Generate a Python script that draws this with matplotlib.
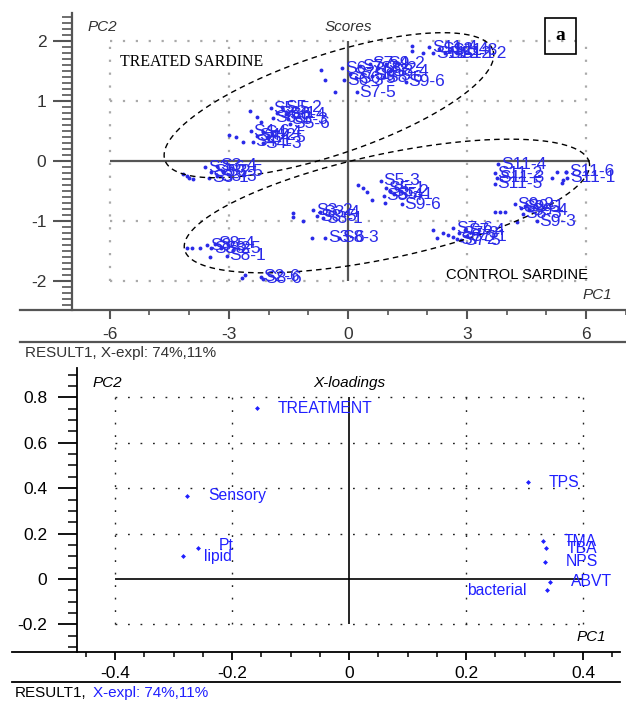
import numpy as np
import matplotlib
matplotlib.use("Agg")
import matplotlib.pyplot as plt
from matplotlib.patches import Rectangle
from matplotlib.lines import Line2D
from matplotlib.ticker import MultipleLocator

plt.rcParams['font.family'] = ['Liberation Sans', 'DejaVu Sans']

# ---- scores (PC1, PC2) with sample labels ----
score_labels = [
    # treated
    "S11-4", "S11-1", "S12-4", "S12-1", "S11-3", "S12-2",
    "S6-7", "S6-3", "S7-2", "S7-4", "S8-2", "S9-2", "S8-4", "S9-5", "S9-6", "S6-5", "S7-5", "S8-6", "S7-1",
    "S5-5", "S6-1", "S5-2", "S6-4", "S5-3", "S6-2", "S5-6",
    "S4-6", "S4-2", "S4-4", "S4-1", "S4-3", "S4-5",
    "S3-6", "S3-2", "S3-4", "S3-1", "S3-3", "S3-5",
    # control
    "S5-3", "S5-1", "S5-2", "S5-4", "S5-1", "S9-6",
    "S3-2", "S3-5", "S3-4", "S3-1", "S3-6", "S8-3",
    "S8-5", "S8-2", "S8-4", "S8-5", "S8-1",
    "S2-6", "S8-6",
    "S7-6", "S7-3", "S7-4", "S7-1", "S7-2", "S7-5",
    "S11-4", "S11-2", "S11-5", "S11-3", "S11-6", "S11-1",
    "S9-2", "S9-5", "S9-1", "S9-4", "S8-3", "S9-3",
]
score_x = [
    2.05, 2.15, 2.30, 2.45, 2.55, 2.75,
    -0.15, -0.10, 0.30, 0.55, 0.75, 0.95, 1.05, 0.60, 1.45, 0.20, 0.22, 0.90, 0.05,
    -1.95, -1.80, -1.65, -1.55, -1.50, -1.90, -1.45,
    -2.45, -2.30, -2.15, -2.40, -2.15, -2.05,
    -3.60, -3.45, -3.30, -3.50, -3.30, -3.15,
    0.82, 0.95, 1.05, 0.90, 1.15, 1.35,
    -0.88, -0.78, -0.70, -0.62, -0.58, -0.22,
    -3.55, -3.45, -3.35, -3.20, -3.05,
    -2.20, -2.15,
    2.65, 2.80, 2.95, 3.00, 2.75, 2.85,
    3.78, 3.70, 3.70, 3.75, 5.50, 5.52,
    4.20, 4.35, 4.45, 4.55, 4.40, 4.75,
]
score_y = [
    1.90, 1.80, 1.86, 1.80, 1.84, 1.80,
    1.55, 1.35, 1.58, 1.62, 1.55, 1.62, 1.50, 1.42, 1.32, 1.38, 1.15, 1.40, 1.45,
    0.88, 0.80, 0.90, 0.78, 0.70, 0.72, 0.62,
    0.50, 0.42, 0.48, 0.32, 0.30, 0.40,
    -0.10, -0.18, -0.08, -0.28, -0.25, -0.18,
    -0.33, -0.45, -0.50, -0.58, -0.55, -0.72,
    -0.82, -0.92, -0.85, -0.95, -1.28, -1.28,
    -1.40, -1.45, -1.38, -1.45, -1.58,
    -1.93, -1.96,
    -1.12, -1.20, -1.15, -1.25, -1.30, -1.32,
    -0.05, -0.20, -0.38, -0.28, -0.18, -0.28,
    -0.72, -0.78, -0.75, -0.82, -0.88, -1.00,
]
# points whose labels are hidden
dot_x = [1.61, 1.61, 1.89, -0.68, -0.58, -0.33, -2.47, -2.29, -2.20, -3.00, -2.82, -2.64,
         -4.15, -4.00, -3.90, -4.05, 0.25, 0.38, 0.48, 0.60, 0.93, -1.39, -1.39, -1.13,
         -0.90, -4.05, -3.93, -3.73, -3.48, -2.67, -2.60, 2.14, 2.24, 2.39, 2.52, 2.64,
         5.14, 5.26, 5.39, 5.50, 5.42, 3.70, 3.83, 3.95, 4.26]
dot_y = [1.92, 1.84, 1.80, 1.52, 1.35, 1.15, 0.83, 0.73, 0.65, 0.43, 0.40, 0.32,
         -0.22, -0.28, -0.30, -0.25, -0.40, -0.45, -0.52, -0.65, -0.70, -0.87, -0.93, -1.00,
         -1.28, -1.45, -1.45, -1.45, -1.60, -1.95, -1.90, -1.15, -1.28, -1.20, -1.23, -1.27,
         -0.28, -0.18, -0.37, -0.18, -0.32, -0.85, -0.85, -0.85, -1.02]

# ---- loadings ----
load_labels = ["TREATMENT", "Sensory", "TPS", "Pt", "lipid", "TMA", "TBA", "NPS", "ABVT", "bacterial"]
load_x = [-0.157, -0.277, 0.306, -0.258, -0.284, 0.332, 0.337, 0.335, 0.344, 0.339]
load_y = [0.753, 0.366, 0.427, 0.136, 0.101, 0.167, 0.136, 0.075, -0.013, -0.049]

W, H = 626, 704
fig = plt.figure(figsize=(W / 100, H / 100), dpi=100)

score_blue = '#2a2ae8'
load_blue = '#1f1fff'

# ================= top: scores =================
ax1 = fig.add_axes([72 / W, 1 - 310 / H, (W - 72) / W, 297 / H])
ax1.set_xlim(-6.952, 7.003)
ax1.set_ylim(-2.483, 2.467)
for s in ['top', 'right', 'bottom']:
    ax1.spines[s].set_visible(False)
ax1.spines['left'].set_color('#555555')
ax1.spines['left'].set_linewidth(1.6)

ax1.hlines([-2, -1, 1, 2], -6, 6, colors='#aaaaaa', linestyles=(0, (1, 4.8)), lw=1.6)
ax1.vlines([-6, -3, 3, 6], -2, 2, colors='#aaaaaa', linestyles=(0, (1, 4.8)), lw=1.6)
ax1.hlines(0, -6, 6.1, colors='#555555', lw=1.6)
ax1.vlines(0, -2, 2, colors='#555555', lw=1.6)

ax1.plot(dot_x, dot_y, 'o', ms=2.8, color=score_blue, mec='none')
ax1.plot(score_x, score_y, 'o', ms=2.8, color=score_blue, mec='none')
for lab, x, y in zip(score_labels, score_x, score_y):
    ax1.annotate(lab, (x, y), xytext=(2, 0), textcoords='offset points',
                 ha='left', va='center', fontsize=12.5, color=score_blue)

# dashed ellipses drawn in pixel space
sx = (W - 72) / (7.003 + 6.952)
sy = 297 / (2.467 + 2.483)
t = np.linspace(0, 2 * np.pi, 300)
for cx, cy, a, b, ang in [(-0.48, 0.93, 173, 50, 18.5), (0.98, -0.75, 207, 52, 12.1)]:
    r = np.deg2rad(ang)
    px = a * np.cos(t) * np.cos(r) - b * np.sin(t) * np.sin(r)
    py = a * np.cos(t) * np.sin(r) + b * np.sin(t) * np.cos(r)
    ax1.plot(cx + px / sx, cy + py / sy, color='black', lw=1, ls=(0, (4, 3)))

ax1.xaxis.set_major_locator(MultipleLocator(3))
ax1.xaxis.set_minor_locator(MultipleLocator(1))
ax1.yaxis.set_major_locator(MultipleLocator(1))
ax1.yaxis.set_minor_locator(MultipleLocator(0.1))
ax1.tick_params(axis='y', which='major', length=13.5, width=1.5, color='#555555', pad=5,
                labelsize=12.5, labelcolor='#333333')
ax1.tick_params(axis='y', which='minor', length=7, width=1.2, color='#555555')
ax1.tick_params(axis='x', which='major', length=6.5, width=1.5, color='#555555', pad=6,
                labelsize=12.5, labelcolor='#333333')
ax1.tick_params(axis='x', which='minor', length=3.5, width=1.2, color='#555555')
ax1.set_xticks([-6, -3, 0, 3, 6])
ax1.set_xticklabels(['-6', '-3', '0', '3', '6'])
ax1.set_yticks([-2, -1, 0, 1, 2])
ax1.set_yticklabels(['-2', '-1', '0', '1', '2'])

ax1.text(-6.57, 2.23, "PC2", fontsize=11, style='italic', color='#333333', va='center')
ax1.text(0, 2.23, "Scores", fontsize=11, style='italic', color='#333333', va='center', ha='center')
ax1.text(6.65, -2.23, "PC1", fontsize=11, style='italic', color='#333333', va='center', ha='right')

fig.text(120 / W, 1 - 62 / H, "TREATED SARDINE", family='Liberation Serif', fontsize=11.4, va='center')
fig.text(446 / W, 1 - 275 / H, "CONTROL SARDINE", fontsize=10.6, va='center')
fig.patches.append(Rectangle((545 / W, 1 - 54 / H), 31 / W, 36 / H, fill=False, lw=1.2,
                             ec='black', transform=fig.transFigure))
fig.text(560 / W, 1 - 36 / H, "a", family='Liberation Serif', fontsize=14, weight='bold',
         ha='center', va='center')

fig.lines.append(Line2D([20 / W, 1], [1 - 310 / H] * 2, color='#555555', lw=1.6, transform=fig.transFigure))
fig.lines.append(Line2D([20 / W, 1], [1 - 342 / H] * 2, color='#555555', lw=1.6, transform=fig.transFigure))
fig.text(25 / W, 1 - 353 / H, "RESULT1, X-expl: 74%,11%", fontsize=11, color='#333333', va='center')

# ================= bottom: loadings =================
ax2 = fig.add_axes([77 / W, 1 - 652 / H, (W - 77) / W, 284 / H])
ax2.set_xlim(-0.465, 0.4735)
ax2.set_ylim(-0.3216, 0.9295)
for s in ['top', 'right', 'bottom']:
    ax2.spines[s].set_visible(False)
ax2.spines['left'].set_linewidth(1.3)

ax2.hlines([-0.2, 0.2, 0.4, 0.6, 0.8], -0.4, 0.4, colors='#222222', linestyles=(0, (1.3, 7.7)), lw=1)
ax2.vlines([-0.4, -0.2, 0.2, 0.4], -0.2, 0.8, colors='#222222', linestyles=(0, (1.3, 7.7)), lw=1)
ax2.hlines(0, -0.4, 0.4, colors='black', lw=1.2)
ax2.vlines(0, -0.2, 0.8, colors='black', lw=1.2)

ax2.plot(load_x, load_y, 'D', ms=2.5, color=load_blue, mec='none')
for lab, x, y in zip(load_labels, load_x, load_y):
    if lab == "bacterial":
        off, ha = (-15, 0), 'right'
    elif lab == "Pt":
        off, ha = (15, 2), 'left'
    else:
        off, ha = (15, 0), 'left'
    ax2.annotate(lab, (x, y), xytext=off, textcoords='offset points',
                 ha=ha, va='center', fontsize=11.3, color=load_blue)

ax2.xaxis.set_major_locator(MultipleLocator(0.2))
ax2.xaxis.set_minor_locator(MultipleLocator(0.05))
ax2.yaxis.set_major_locator(MultipleLocator(0.2))
ax2.yaxis.set_minor_locator(MultipleLocator(0.05))
ax2.set_xticks([-0.4, -0.2, 0, 0.2, 0.4])
ax2.set_xticklabels(['-0.4', '-0.2', '0', '0.2', '0.4'])
ax2.set_yticks([-0.2, 0, 0.2, 0.4, 0.6, 0.8])
ax2.set_yticklabels(['-0.2', '0', '0.2', '0.4', '0.6', '0.8'])
ax2.tick_params(axis='y', which='major', length=13.5, width=1.3, pad=8, labelsize=12.5)
ax2.tick_params(axis='y', which='minor', length=6.5, width=1.1)
ax2.tick_params(axis='x', which='major', length=6, width=1.3, pad=4, labelsize=12.5)
ax2.tick_params(axis='x', which='minor', length=3.5, width=1.1)

ax2.text(-0.439, 0.863, "PC2", fontsize=11, style='italic', va='center')
ax2.text(0, 0.863, "X-loadings", fontsize=11, style='italic', va='center', ha='center')
ax2.text(0.439, -0.255, "PC1", fontsize=11, style='italic', va='center', ha='right')

fig.lines.append(Line2D([12 / W, 620 / W], [1 - 652 / H] * 2, color='black', lw=1.3, transform=fig.transFigure))
fig.lines.append(Line2D([12 / W, 620 / W], [1 - 682 / H] * 2, color='black', lw=1.3, transform=fig.transFigure))
fig.text(15 / W, 1 - 693 / H, "RESULT1,", fontsize=11, color='black', va='center')
fig.text(93 / W, 1 - 693 / H, "X-expl: 74%,11%", fontsize=11, color=load_blue, va='center')

fig.savefig("out.png", dpi=100)
